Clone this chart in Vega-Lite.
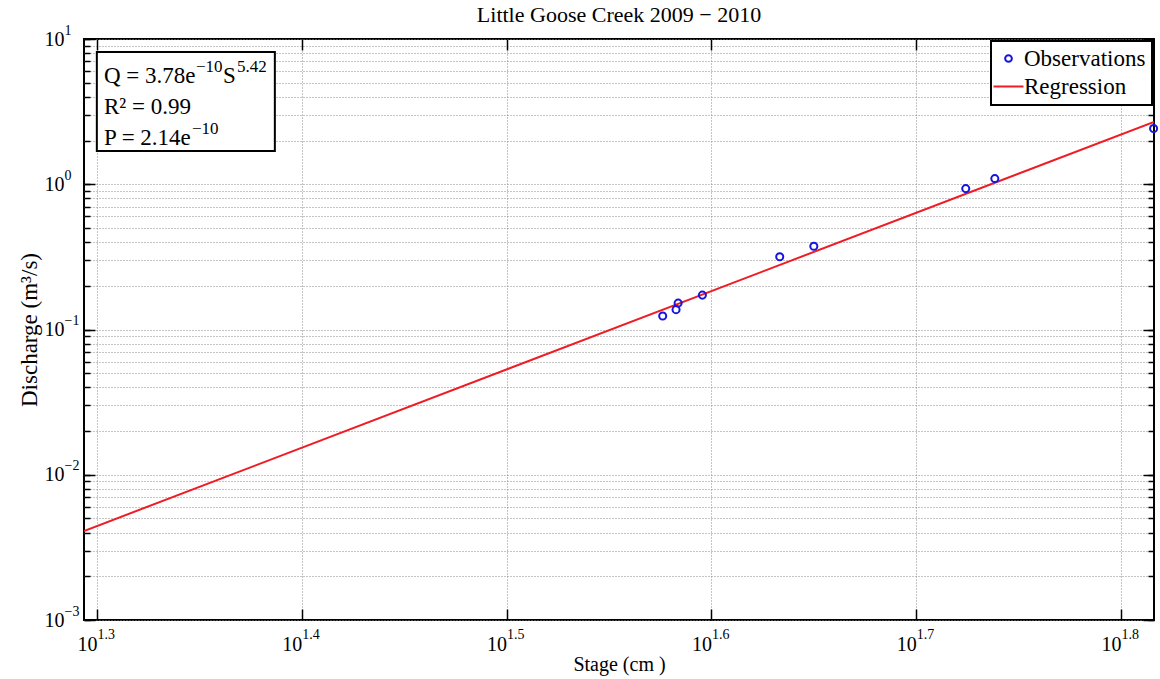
{
  "$schema": "https://vega.github.io/schema/vega-lite/v6.json",
  "width": 1070,
  "height": 581,
  "autosize": {"type": "none"},
  "padding": {"left": 84, "top": 39, "right": 6, "bottom": 59},
  "background": "white",
  "title": {"text": "Little Goose Creek 2009 − 2010", "font": "Liberation Serif", "fontSize": 22, "fontWeight": "normal", "color": "black", "anchor": "middle", "frame": "group", "baseline": "alphabetic", "offset": 0, "dy": 21},
  "datasets": {
    "obs": [
      {"stage": 37.69, "discharge": 0.124, "series": "Observations"},
      {"stage": 38.26, "discharge": 0.137, "series": "Observations"},
      {"stage": 38.35, "discharge": 0.152, "series": "Observations"},
      {"stage": 39.41, "discharge": 0.1725, "series": "Observations"},
      {"stage": 42.99, "discharge": 0.317, "series": "Observations"},
      {"stage": 44.67, "discharge": 0.374, "series": "Observations"},
      {"stage": 52.99, "discharge": 0.933, "series": "Observations"},
      {"stage": 54.75, "discharge": 1.094, "series": "Observations"},
      {"stage": 65.45, "discharge": 2.42, "series": "Observations"}
    ],
    "fit": [
      {"stage": 19.664, "discharge": 0.0041, "series": "Regression"},
      {"stage": 65.48, "discharge": 2.69, "series": "Regression"}
    ],
    "one": [{}]
  },
  "resolve": {"axis": {"x": "independent", "y": "independent"}},
  "layer": [
    {
      "data": {"name": "fit"},
      "mark": {"type": "line", "strokeWidth": 2, "clip": true},
      "encoding": {
        "x": {"field": "stage", "type": "quantitative",
          "scale": {"type": "log", "domain": [19.664, 65.48], "nice": false, "zero": false},
          "axis": {"orient": "bottom", "values": [19.9526, 25.1189, 31.6228, 39.8107, 50.1187, 63.0957], "labelExpr": "'10'", "labelAlign": "right", "labelBaseline": "alphabetic", "labelPadding": 30, "labelFontSize": 20, "grid": true, "gridDash": [1, 2], "gridColor": "#8a8a8a", "gridWidth": 1, "title": "Stage (cm )", "titleFontSize": 20, "titlePadding": 0}},
        "y": {"field": "discharge", "type": "quantitative",
          "scale": {"type": "log", "domain": [0.001, 10], "nice": false},
          "axis": {"orient": "left", "values": [0.001, 0.01, 0.1, 1, 10], "labelExpr": "'10'", "labelAlign": "right", "labelBaseline": "middle", "labelPadding": 20, "labelFontSize": 20, "title": "Discharge (m³/s)", "titleFontSize": 23, "titlePadding": 3}},
        "color": {"field": "series", "type": "nominal",
          "scale": {"domain": ["Observations", "Regression"], "range": ["#1515e0", "#ee1c24"]},
          "legend": {"orient": "top-right", "offset": 2, "title": null, "fillColor": "white", "strokeColor": "black", "padding": 6, "labelFont": "Liberation Serif", "labelFontSize": 23, "labelColor": "black", "labelOffset": 4, "rowPadding": 4, "symbolStrokeWidth": 2,
            "encode": {
              "symbols": {"update": {"shape": {"signal": "datum.value === 'Regression' ? 'stroke' : 'circle'"}, "size": {"signal": "datum.value === 'Regression' ? 900 : 45"}, "fill": {"value": "transparent"}, "strokeWidth": {"value": 2}}},
              "legend": {"update": {"strokeWidth": {"value": 2}}}
            }}}
      }
    },
    {
      "data": {"name": "obs"},
      "mark": {"type": "point", "filled": false, "size": 50, "strokeWidth": 2, "opacity": 1},
      "encoding": {
        "x": {"field": "stage", "type": "quantitative",
          "axis": {"orient": "bottom", "values": [19.9526, 25.1189, 31.6228, 39.8107, 50.1187, 63.0957], "labelExpr": "format(log(datum.value)/LN10, '.1f')", "labelAlign": "left", "labelBaseline": "alphabetic", "labelPadding": 18, "labelFontSize": 14, "title": null}},
        "y": {"field": "discharge", "type": "quantitative",
          "axis": {"orient": "left", "values": [0.001, 0.01, 0.1, 1, 10], "labelExpr": "format(log(datum.value)/LN10, 'd')", "labelAlign": "left", "labelBaseline": "middle", "labelPadding": 20, "labelOffset": -9, "labelFontSize": 14, "title": null}},
        "color": {"field": "series", "type": "nominal"}
      }
    },
    {
      "data": {"name": "one"},
      "mark": {"type": "rect", "fill": "white", "stroke": "black", "strokeWidth": 2},
      "encoding": {
        "x": {"datum": 19.95, "type": "quantitative",
          "axis": {"orient": "bottom", "values": [19.9526, 25.1189, 31.6228, 39.8107, 50.1187, 63.0957], "labels": false, "ticks": true, "tickSize": -11, "title": null}},
        "x2": {"datum": 24.37},
        "y": {"datum": 8.14, "type": "quantitative",
          "axis": {"orient": "left", "values": [0.001, 0.01, 0.1, 1, 10], "labels": false, "ticks": true, "tickSize": -11, "title": null}},
        "y2": {"datum": 1.694}
      }
    },
    {
      "data": {"name": "one"},
      "mark": {"type": "text", "text": "Q = 3.78e", "align": "left", "baseline": "alphabetic", "font": "Liberation Serif", "fontSize": 23, "color": "black"},
      "encoding": {
        "x": {"datum": 20.11, "type": "quantitative",
          "axis": {"orient": "top", "values": [19.9526, 25.1189, 31.6228, 39.8107, 50.1187, 63.0957], "labels": false, "ticks": true, "tickSize": -11, "title": null}},
        "y": {"datum": 4.98, "type": "quantitative",
          "axis": {"orient": "left", "values": [0.001, 0.002, 0.003, 0.004, 0.005, 0.006, 0.007, 0.008, 0.009, 0.01, 0.02, 0.03, 0.04, 0.05, 0.06, 0.07, 0.08, 0.09, 0.1, 0.2, 0.3, 0.4, 0.5, 0.6, 0.7, 0.8, 0.9, 1, 2, 3, 4, 5, 6, 7, 8, 9, 10], "labels": false, "ticks": true, "tickSize": -6, "grid": true, "gridDash": [1, 2], "gridColor": "#8a8a8a", "gridWidth": 1, "title": null}}
      }
    },
    {
      "data": {"name": "one"},
      "mark": {"type": "text", "text": "−10", "align": "left", "baseline": "alphabetic", "font": "Liberation Serif", "fontSize": 17, "color": "black", "dx": 92, "dy": -11},
      "encoding": {
        "x": {"datum": 20.11, "type": "quantitative", "axis": null},
        "y": {"datum": 4.98, "type": "quantitative",
          "axis": {"orient": "right", "values": [0.001, 0.01, 0.1, 1, 10], "labels": false, "ticks": true, "tickSize": -11, "title": null}}
      }
    },
    {
      "data": {"name": "one"},
      "mark": {"type": "text", "text": "S", "align": "left", "baseline": "alphabetic", "font": "Liberation Serif", "fontSize": 23, "color": "black", "dx": 119},
      "encoding": {
        "x": {"datum": 20.11, "type": "quantitative", "axis": null},
        "y": {"datum": 4.98, "type": "quantitative",
          "axis": {"orient": "right", "values": [0.001, 0.002, 0.003, 0.004, 0.005, 0.006, 0.007, 0.008, 0.009, 0.01, 0.02, 0.03, 0.04, 0.05, 0.06, 0.07, 0.08, 0.09, 0.1, 0.2, 0.3, 0.4, 0.5, 0.6, 0.7, 0.8, 0.9, 1, 2, 3, 4, 5, 6, 7, 8, 9, 10], "labels": false, "ticks": true, "tickSize": -6, "title": null}}
      }
    },
    {
      "data": {"name": "one"},
      "mark": {"type": "text", "text": "5.42", "align": "left", "baseline": "alphabetic", "font": "Liberation Serif", "fontSize": 17, "color": "black", "dx": 133, "dy": -11},
      "encoding": {
        "x": {"datum": 20.11, "type": "quantitative", "axis": null},
        "y": {"datum": 4.98, "type": "quantitative", "axis": null}
      }
    },
    {
      "data": {"name": "one"},
      "mark": {"type": "text", "text": "R² = 0.99", "align": "left", "baseline": "alphabetic", "font": "Liberation Serif", "fontSize": 23, "color": "black"},
      "encoding": {
        "x": {"datum": 20.11, "type": "quantitative", "axis": null},
        "y": {"datum": 3.045, "type": "quantitative", "axis": null}
      }
    },
    {
      "data": {"name": "one"},
      "mark": {"type": "text", "text": "P = 2.14e", "align": "left", "baseline": "alphabetic", "font": "Liberation Serif", "fontSize": 23, "color": "black"},
      "encoding": {
        "x": {"datum": 20.11, "type": "quantitative", "axis": null},
        "y": {"datum": 1.863, "type": "quantitative", "axis": null}
      }
    },
    {
      "data": {"name": "one"},
      "mark": {"type": "text", "text": "−10", "align": "left", "baseline": "alphabetic", "font": "Liberation Serif", "fontSize": 17, "color": "black", "dx": 88, "dy": -11},
      "encoding": {
        "x": {"datum": 20.11, "type": "quantitative", "axis": null},
        "y": {"datum": 1.863, "type": "quantitative", "axis": null}
      }
    }
  ],
  "config": {
    "font": "Liberation Serif",
    "view": {"stroke": "black", "strokeWidth": 2},
    "axis": {"labelColor": "black", "titleColor": "black", "labelFont": "Liberation Serif", "titleFont": "Liberation Serif", "titleFontWeight": "normal", "domain": false, "ticks": false, "grid": false, "tickColor": "black", "tickWidth": 1.5, "labelFlush": false, "labelOverlap": false, "labelBound": false}
  }
}
